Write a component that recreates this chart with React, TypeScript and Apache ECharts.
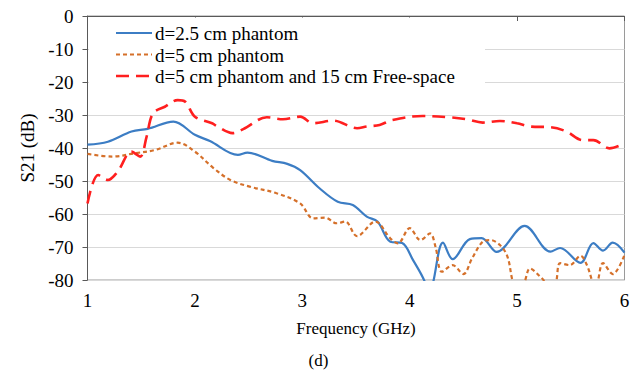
import React, { useEffect, useRef } from "react";
import * as echarts from "echarts";

const seriesNames = [
  "d=2.5 cm phantom",
  "d=5 cm phantom",
  "d=5 cm phantom and 15 cm Free-space",
];

const xTicks = [1, 2, 3, 4, 5, 6];
const yTicks = [0, -10, -20, -30, -40, -50, -60, -70, -80];

const blueData: [number, number][] = [
  [1.0, -39.0], [1.19, -38.1], [1.41, -35.0], [1.56, -34.2], [1.8, -32.0],
  [2.0, -36.0], [2.14, -37.9], [2.4, -42.1], [2.49, -41.4], [2.72, -43.9],
  [2.86, -44.8], [2.98, -46.7], [3.16, -52.2], [3.33, -56.3], [3.47, -57.3],
  [3.6, -60.8], [3.7, -62.3], [3.82, -68.4], [3.93, -68.8], [4.03, -73.9],
  [4.14, -80.5], [4.18, -86], [4.22, -80.5], [4.31, -68.7], [4.4, -73.7],
  [4.56, -67.6], [4.67, -67.3], [4.81, -71.5], [5.07, -63.6], [5.31, -71.4],
  [5.4, -70.3], [5.59, -74.8], [5.71, -68.8], [5.8, -71.1], [5.89, -68.7],
  [6.0, -71.7],
];

const orangeData: [number, number][] = [
  [1.0, -41.8], [1.23, -42.6], [1.44, -41.6], [1.63, -40.6], [1.84, -38.4],
  [2.0, -41.1], [2.17, -46.0], [2.33, -49.7], [2.51, -51.7], [2.76, -53.7],
  [2.98, -56.8], [3.1, -61.3], [3.21, -61.1], [3.32, -62.8], [3.4, -62.3],
  [3.51, -66.7], [3.68, -62.3], [3.82, -67.4], [3.89, -68.9], [4.0, -64.3],
  [4.1, -67.9], [4.19, -65.9], [4.24, -69.9], [4.3, -77.5], [4.4, -75.5],
  [4.5, -78.2], [4.58, -73.5], [4.68, -68.4], [4.75, -67.9], [4.84, -69.4],
  [4.91, -72.9], [4.96, -80.5], [5.01, -84], [5.07, -80.5], [5.12, -76.5],
  [5.21, -78.8], [5.27, -81], [5.31, -83], [5.36, -81], [5.4, -74.9],
  [5.49, -75.5], [5.59, -72.7], [5.65, -75.5], [5.7, -80.5], [5.72, -83],
  [5.75, -80.5], [5.8, -74.9], [5.89, -78.2], [6.0, -72.4],
];

const redData: [number, number][] = [
  [1.0, -56.8], [1.1, -48.2], [1.19, -49.7], [1.28, -47.2], [1.41, -41.1],
  [1.49, -42.6], [1.55, -36.6], [1.61, -29.5], [1.72, -27.5], [1.84, -25.5],
  [1.91, -26.0], [2.0, -30.5], [2.16, -32.5], [2.21, -33.5], [2.35, -35.5],
  [2.45, -34.3], [2.67, -30.7], [2.82, -31.3], [2.98, -30.5], [3.1, -32.5],
  [3.29, -31.7], [3.51, -34.0], [3.6, -33.5], [3.72, -33.0], [3.84, -31.5],
  [4.12, -30.3], [4.37, -30.7], [4.53, -31.3], [4.68, -32.3], [4.84, -31.8],
  [5.0, -32.5], [5.12, -33.5], [5.31, -33.7], [5.46, -35.0], [5.61, -37.6],
  [5.71, -37.6], [5.86, -40.1], [6.0, -38.6],
];

const seriesColors = ["#3c7dc4", "#d5702a", "#ff1f1f"];
const seriesDash: (number[] | null)[] = [null, [4, 3], [13, 7]];
const seriesWidth = [2.2, 2.2, 2.6];

const FONT = "Liberation Serif";

export default function App() {
  const ref = useRef<HTMLDivElement>(null);
  useEffect(() => {
    if (!ref.current) return;
    const chart = echarts.init(ref.current, null, { renderer: "svg" });

    const legendRowY = [33, 54.5, 76];
    const legendGraphics: any[] = [
      {
        type: "rect",
        z: 1,
        shape: { x: 89, y: 17.5, width: 396, height: 68.5 },
        style: { fill: "#ffffff", stroke: "none" },
      },
    ];
    seriesNames.forEach((name, i) => {
      legendGraphics.push({
        type: "line",
        z: 3,
        shape: { x1: 116, y1: legendRowY[i], x2: 152, y2: legendRowY[i] },
        style: {
          stroke: seriesColors[i],
          lineWidth: seriesWidth[i],
          lineDash: seriesDash[i] || undefined,
        },
      });
      legendGraphics.push({
        type: "text",
        z: 3,
        x: 155,
        y: legendRowY[i] + 0.5,
        style: {
          text: name,
          fontFamily: FONT,
          fontSize: 19,
          fill: "#000",
          textVerticalAlign: "middle",
          verticalAlign: "middle",
        },
      });
    });

    chart.setOption({
      animation: false,
      backgroundColor: "#ffffff",
      grid: {
        left: 87.5,
        right: 12.5,
        top: 16,
        bottom: 95,
        show: true,
        borderColor: "#9a9a9a",
        borderWidth: 1,
      },
      xAxis: {
        type: "value",
        min: xTicks[0],
        max: xTicks[xTicks.length - 1],
        interval: 1,
        name: "Frequency (GHz)",
        nameLocation: "middle",
        nameGap: 40,
        nameTextStyle: { fontFamily: FONT, fontSize: 17, color: "#000" },
        axisLine: { show: true, lineStyle: { color: "#595959", width: 1 } },
        axisTick: { show: true, inside: false, length: 5, lineStyle: { color: "#595959" } },
        axisLabel: { fontFamily: FONT, fontSize: 19, color: "#000", margin: 11 },
        splitLine: { show: false },
      },
      yAxis: {
        type: "value",
        min: yTicks[yTicks.length - 1],
        max: yTicks[0],
        interval: 10,
        name: "S21 (dB)",
        nameLocation: "middle",
        nameGap: 50,
        nameTextStyle: { fontFamily: FONT, fontSize: 19, color: "#000" },
        axisLine: { show: true, lineStyle: { color: "#595959", width: 1 } },
        axisTick: { show: true, inside: false, length: 5, lineStyle: { color: "#595959" } },
        axisLabel: { fontFamily: FONT, fontSize: 19, color: "#000", margin: 14 },
        splitLine: { show: true, lineStyle: { color: "#d9d9d9", width: 1 } },
      },
      graphic: [
        ...legendGraphics,
        {
          type: "text",
          left: "center",
          top: 352,
          style: { text: "(d)", fontFamily: FONT, fontSize: 17, fill: "#000" },
        },
      ],
      series: [
        { data: blueData },
        { data: orangeData },
        { data: redData },
      ].map((s, i) => ({
        name: seriesNames[i],
        type: "line",
        data: s.data,
        smooth: 0.35,
        symbol: "none",
        showSymbol: false,
        clip: true,
        lineStyle: {
          color: seriesColors[i],
          width: seriesWidth[i],
          type: seriesDash[i] || "solid",
        },
        itemStyle: { color: seriesColors[i] },
      })),
    });
    return () => chart.dispose();
  }, []);
  return <div ref={ref} style={{ width: 637, height: 375, position: "absolute", left: 0, top: 0 }} />;
}
